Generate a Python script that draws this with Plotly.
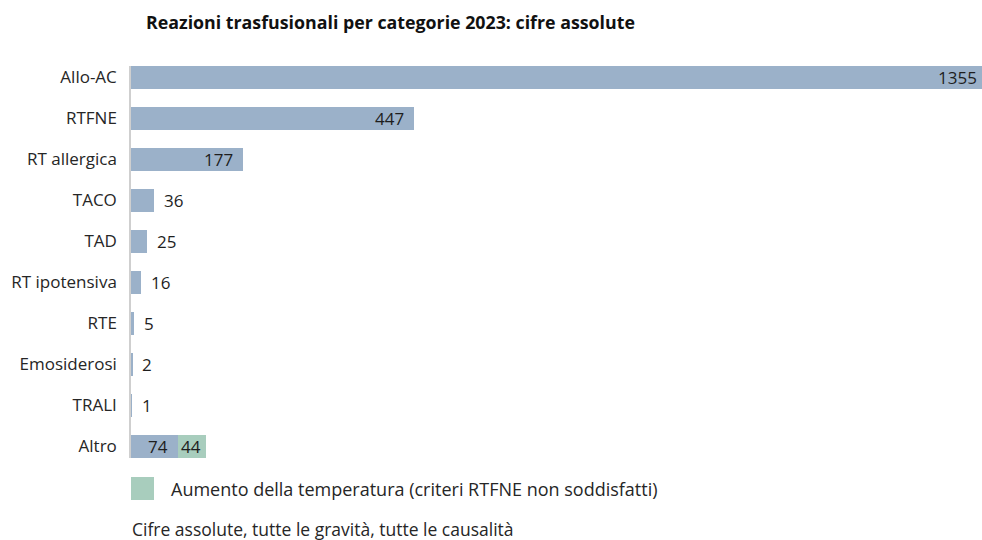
import plotly.graph_objects as go

categories = ["Allo-AC", "RTFNE", "RT allergica", "TACO", "TAD", "RT ipotensiva",
              "RTE", "Emosiderosi", "TRALI", "Altro"]
values_main = [1355, 447, 177, 36, 25, 16, 5, 2, 1, 74]
values_temp = [None, None, None, None, None, None, None, None, None, 44]
inside_labels = ["Allo-AC", "RTFNE", "RT allergica", "Altro"]
temp_label = "Aumento della temperatura (criteri RTFNE non soddisfatti)"
title_text = "Reazioni trasfusionali per categorie 2023: cifre assolute"
footnote = "Cifre assolute, tutte le gravità, tutte le causalità"

BLUE = "#9bb1c9"
GREEN = "#a8cdbd"
FONT = "Open Sans"
TXT = "#262626"
VAL = "#1e1e1e"

# figure is a bit wider than the window: the longest bar runs off the right edge
FIG_W, FIG_H = 990, 540
L, R, T, B = 131, 0, 66, 82
PLOT_W = FIG_W - L - R
PLOT_H = FIG_H - T - B
PX_PER_UNIT = 0.632
x_max = PLOT_W / PX_PER_UNIT

bar_frac = 0.561  # bar thickness in category units
n = len(categories)


def py(y_px):
    """pixel row -> paper y"""
    return (T + PLOT_H - y_px) / PLOT_H


def px(x_px):
    """pixel column -> paper x"""
    return (x_px - L) / PLOT_W


fig = go.Figure()
fig.add_trace(go.Bar(
    y=categories, x=values_main, orientation="h",
    marker=dict(color=BLUE, line=dict(width=0)),
    showlegend=False, name="Reazioni",
    hovertemplate="%{y}: %{x}<extra></extra>",
))
fig.add_trace(go.Bar(
    y=categories, x=values_temp, orientation="h",
    marker=dict(color=GREEN, line=dict(width=0)),
    showlegend=False, name=temp_label,
    hovertemplate="%{y}: %{x}<extra></extra>",
))

annotations = []
for cat, v, extra in zip(categories, values_main, values_temp):
    if cat in inside_labels:
        annotations.append(dict(x=v, y=cat, xref="x", yref="y", text=str(v),
                                showarrow=False, xanchor="right", xshift=-8,
                                font=dict(family=FONT, size=17, color=VAL)))
    else:
        annotations.append(dict(x=v, y=cat, xref="x", yref="y", text=str(v),
                                showarrow=False, xanchor="left", xshift=8,
                                font=dict(family=FONT, size=17, color=VAL)))
    if extra is not None:
        annotations.append(dict(x=v + extra, y=cat, xref="x", yref="y", text=str(extra),
                                showarrow=False, xanchor="right", xshift=-3,
                                font=dict(family=FONT, size=17, color=VAL)))

# legend (swatch + label) below the plot
annotations.append(dict(text=temp_label, xref="paper", yref="paper",
                        x=px(169), xanchor="left", y=py(489), yanchor="middle",
                        showarrow=False, font=dict(family=FONT, size=18, color=TXT)))
annotations.append(dict(text=footnote, xref="paper", yref="paper",
                        x=px(130), xanchor="left", y=py(529), yanchor="middle",
                        showarrow=False, font=dict(family=FONT, size=17.5, color=TXT)))

shapes = [dict(type="rect", xref="paper", yref="paper",
               x0=px(131), x1=px(154), y0=py(500), y1=py(477),
               fillcolor=GREEN, line=dict(width=0))]

fig.update_layout(
    width=FIG_W, height=FIG_H,
    barmode="stack", bargap=1 - bar_frac,
    paper_bgcolor="white", plot_bgcolor="white",
    margin=dict(l=L, r=R, t=T, b=B, autoexpand=False),
    font=dict(family=FONT, size=17, color=TXT),
    title=dict(text="<b>" + title_text + "</b>", x=px(146), xref="paper",
               xanchor="left", y=1 - 23 / FIG_H, yref="container", yanchor="middle",
               font=dict(family=FONT, size=17.8, color="#111111")),
    xaxis=dict(range=[0, x_max], showticklabels=False, showgrid=False,
               zeroline=False, showline=False, fixedrange=True),
    yaxis=dict(range=[n - 1 + bar_frac / 2, -bar_frac / 2],
               showline=True, linecolor="#cfcfcf", linewidth=1.5,
               ticks="", ticklabelstandoff=9, showgrid=False,
               tickfont=dict(family=FONT, size=17, color=TXT)),
    showlegend=False,
    annotations=annotations,
    shapes=shapes,
)

fig.write_html("out.html",
               config={"displayModeBar": False},
               post_script="document.body.style.margin='0';"
                           "document.body.style.overflow='hidden';")
